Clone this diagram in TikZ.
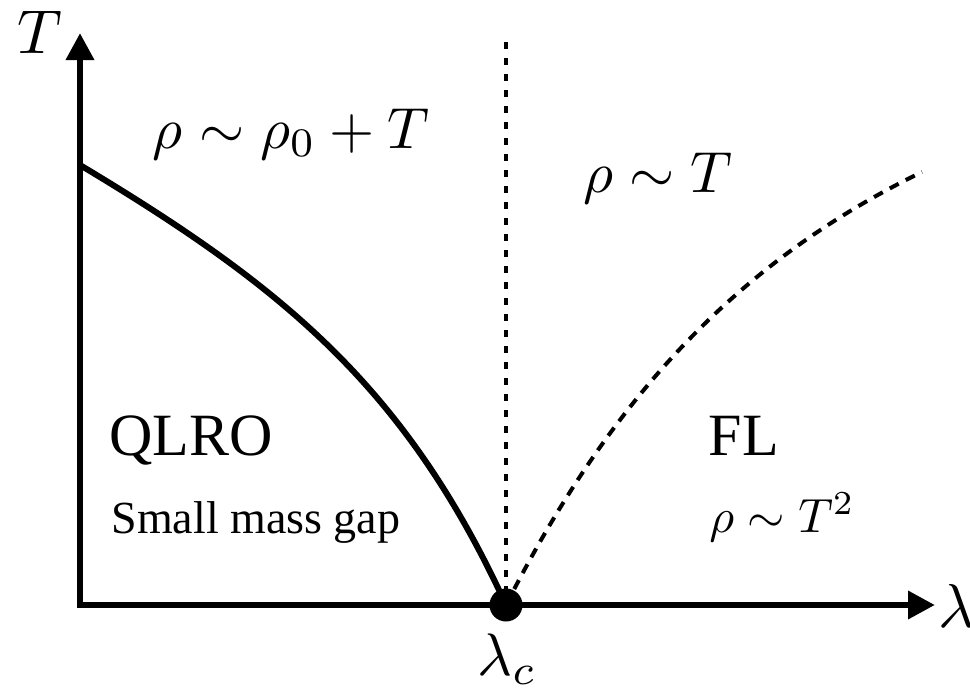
\documentclass[tikz,border=0pt]{standalone}
\usepackage{graphicx}
\usepackage[no-math]{fontspec}
\newfontfamily\serifA{Liberation Serif}
\usetikzlibrary{arrows.meta}
\begin{document}
\begin{tikzpicture}[x=1pt,y=-1pt,
  axis/.style={line width=6.5pt, line join=miter,
    {Triangle[length=27pt,width=27pt]}-{Triangle[length=27pt,width=27pt]}},
  phase/.style={line width=6pt},
  crossover/.style={line width=4pt, dash pattern=on 10pt off 8pt},
  qcline/.style={line width=3.5pt, dash pattern=on 7pt off 9pt},
  dot/.style={circle, fill=black, inner sep=0pt, minimum size=33pt},
  lab/.style={inner sep=0pt, anchor=base},
]
\useasboundingbox (0,0) rectangle (970,691);
\coordinate (top) at (80,33);
\coordinate (o) at (80,605);
\coordinate (right) at (935,605);
\coordinate (t0) at (80,165);
\coordinate (vtop) at (506,42);
\coordinate (fend) at (922,172);
\coordinate (cp) at (506,605);
% axes
\draw[axis] (top) -- (o) -- (right);
% lines
\draw[qcline] (vtop) -- (cp);
\draw[phase] (t0) .. controls (280,285) and (405,385) .. (cp);
\draw[crossover] (cp) .. controls (600,420) and (720,270) .. (fend);
\node[dot] (c) at (cp) {};
% labels
\node[lab] (tlab) at (40,53) {\scalebox{6.2}{$T$}};
\node[lab, anchor=base west] (llab) at (938,627) {\scalebox{6.2}{$\lambda$}};
\node[lab] (lc) at (507,675) {\scalebox{6.0}{$\lambda_c$}};
\node[lab] (r1) at (291,148) {\scalebox{5.8}{$\rho\sim\rho_0+T$}};
\node[lab] (r2) at (658,192) {\scalebox{5.8}{$\rho\sim T$}};
\node[lab] (qlro) at (191,455) {\fontsize{60}{66}\selectfont\serifA QLRO};
\node[lab] (gap) at (256,533) {\fontsize{46}{52}\selectfont\serifA Small mass gap};
\node[lab] (fl) at (744,455) {\fontsize{60}{66}\selectfont\serifA FL};
\node[lab] (r3) at (782,532) {\scalebox{4.8}{$\rho\sim T^2$}};
\end{tikzpicture}
\end{document}
